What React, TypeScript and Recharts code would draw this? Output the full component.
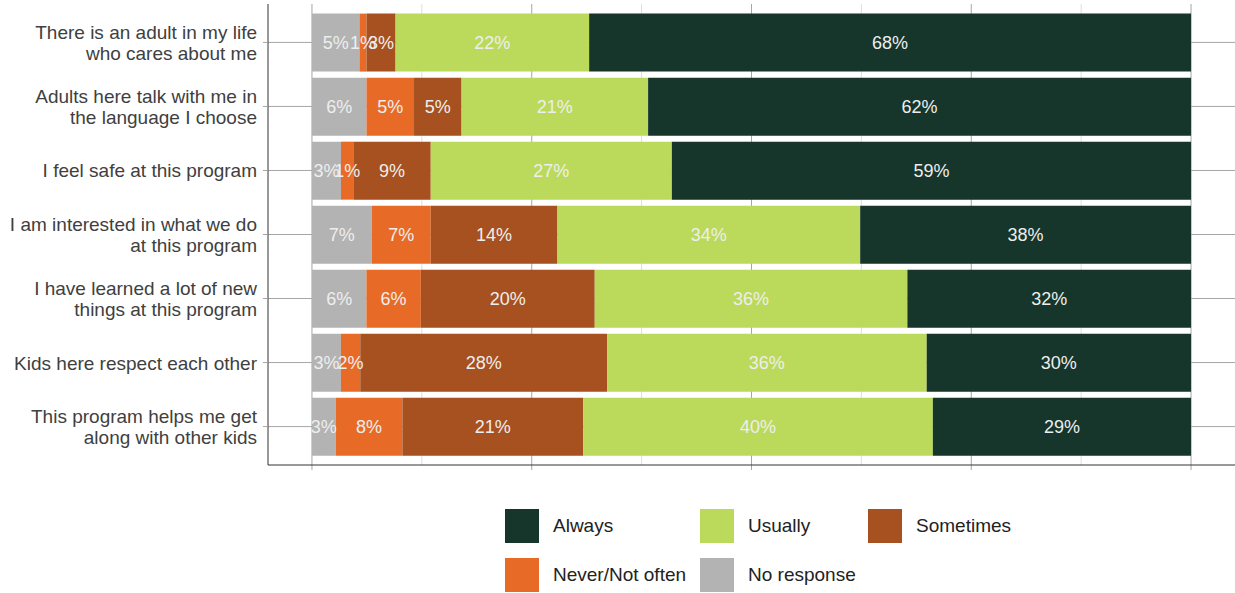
import React from 'react';
import { BarChart, Bar, XAxis, YAxis, CartesianGrid, LabelList } from 'recharts';

const categories = [
  'There is an adult in my life\nwho cares about me',
  'Adults here talk with me in\nthe language I choose',
  'I feel safe at this program',
  'I am interested in what we do\nat this program',
  'I have learned a lot of new\nthings at this program',
  'Kids here respect each other',
  'This program helps me get\nalong with other kids',
];

const noResponse = [5.4, 6.2, 3.3, 6.8, 6.2, 3.3, 2.7];
const neverNotOften = [0.8, 5.4, 1.4, 6.7, 6.2, 2.2, 7.6];
const sometimes = [3.3, 5.4, 8.8, 14.4, 19.8, 28.1, 20.6];
const usually = [22.0, 21.2, 27.4, 34.4, 35.6, 36.4, 39.8];
const always = [68.4, 61.7, 59.0, 37.6, 32.3, 30.1, 29.4];

const xTicks = [0, 12.5, 25, 37.5, 50, 62.5, 75, 87.5, 100];

const series = [
  { key: 'noResponse', name: 'No response', color: '#B3B3B3', values: noResponse },
  { key: 'never', name: 'Never/Not often', color: '#E86A27', values: neverNotOften },
  { key: 'sometimes', name: 'Sometimes', color: '#A6511F', values: sometimes },
  { key: 'usually', name: 'Usually', color: '#BBDA5C', values: usually },
  { key: 'always', name: 'Always', color: '#16352B', values: always },
];

const legendOrder = ['Always', 'Usually', 'Sometimes', 'Never/Not often', 'No response'];

const data = categories.map((cat, i) => {
  const total = series.reduce((acc, s) => acc + s.values[i], 0);
  const row: Record<string, any> = { cat };
  series.forEach((s) => {
    row[s.key] = (s.values[i] / total) * 100;
    row[s.key + 'Label'] = `${Math.round(s.values[i])}%`;
  });
  return row;
});

const FONT = '"Liberation Sans", Arial, Helvetica, sans-serif';

const YTick = (props: any) => {
  const { x, y, payload } = props;
  const lines = String(payload.value).split('\n');
  const lh = 21;
  const start = -((lines.length - 1) * lh) / 2 + 7;
  const tx = x - 4;
  return (
    <text x={tx} y={y} textAnchor="end" fontSize={19} fill="#404040" fontFamily={FONT}>
      {lines.map((l, i) => (
        <tspan key={i} x={tx} dy={i === 0 ? start : lh}>
          {l}
        </tspan>
      ))}
    </text>
  );
};

const NoTick = () => <g />;

const VLine = (props: any) => {
  const { x1, y1, x2, y2, index } = props;
  const major = index % 2 === 0;
  return (
    <line
      x1={x1}
      y1={y1}
      x2={x2}
      y2={major ? y2 + 5 : y2}
      stroke={major ? '#A6A6A6' : '#DEDEDE'}
      strokeWidth={1}
    />
  );
};

const HLine = (props: any) => {
  const { x1, y1, x2, y2 } = props;
  return <line x1={x1} y1={y1} x2={x2} y2={y2} stroke="#A6A6A6" strokeWidth={1} />;
};

export default function App() {
  return (
    <div style={{ position: 'absolute', left: 0, top: 0, width: 1235, height: 593, background: '#fff', fontFamily: FONT }}>
      <BarChart
        width={1235}
        height={593}
        data={data}
        layout="vertical"
        margin={{ top: 4, right: 0, bottom: 98, left: 0 }}
        barCategoryGap="5%"
      >
        <CartesianGrid horizontal={HLine} vertical={VLine} syncWithTicks />
        <XAxis
          type="number"
          domain={[-5, 105]}
          ticks={xTicks}
          tick={<NoTick />}
          tickLine={false}
          axisLine={{ stroke: '#333333' }}
          height={30}
          interval={0}
        />
        <YAxis
          type="category"
          dataKey="cat"
          width={268}
          tick={<YTick />}
          tickSize={5}
          tickLine={{ stroke: '#A6A6A6' }}
          axisLine={{ stroke: '#333333' }}
          padding={{ top: 6.4, bottom: 6.4 }}
          interval={0}
        />
        {series.map((s) => (
          <Bar key={s.key} dataKey={s.key} name={s.name} stackId="a" fill={s.color} isAnimationActive={false}>
            <LabelList
              dataKey={s.key + 'Label'}
              position="center"
              fill="#EEEEEE"
              fontSize={18}
              fontFamily={FONT}
            />
          </Bar>
        ))}
      </BarChart>
      <div
        style={{
          position: 'absolute',
          left: 505,
          top: 509,
          display: 'grid',
          gridTemplateColumns: '195px 168px auto',
          rowGap: 15,
        }}
      >
        {legendOrder.map((name) => {
          const s = series.find((t) => t.name === name)!;
          return (
            <div key={name} style={{ display: 'flex', alignItems: 'center', height: 34 }}>
              <div style={{ width: 34, height: 34, background: s.color, marginRight: 14, flex: 'none' }} />
              <span style={{ fontSize: 19, color: '#222222', fontFamily: FONT, whiteSpace: 'nowrap' }}>{name}</span>
            </div>
          );
        })}
      </div>
    </div>
  );
}
